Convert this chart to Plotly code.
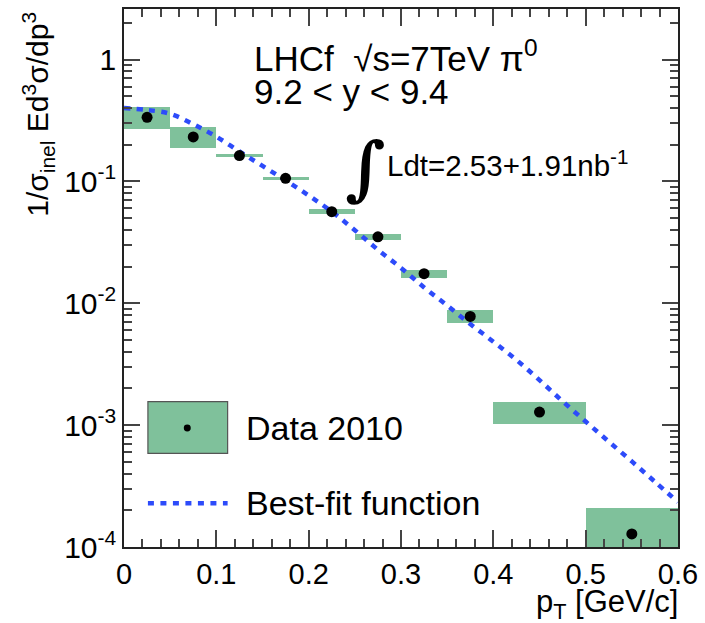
import numpy as np
import plotly.graph_objects as go

# ---------------- data ----------------
bin_lo = [0.00, 0.05, 0.10, 0.15, 0.20, 0.25, 0.30, 0.35, 0.40, 0.50]
bin_hi = [0.05, 0.10, 0.15, 0.20, 0.25, 0.30, 0.35, 0.40, 0.50, 0.60]
data_val = [0.336, 0.232, 0.163, 0.106, 0.0565, 0.0351, 0.0175, 0.0078, 0.00128, 0.000128]
syst_up = [0.405, 0.279, 0.1694, 0.109, 0.0590, 0.0369, 0.0188, 0.00887, 0.00155, 0.000208]
syst_dn = [0.271, 0.188, 0.1589, 0.103, 0.0543, 0.0331, 0.0161, 0.00695, 0.00102, 0.00005]

fit_pt = [0.000, 0.025, 0.050, 0.075, 0.100, 0.125, 0.150, 0.175, 0.200, 0.225,
          0.250, 0.275, 0.300, 0.325, 0.350, 0.375, 0.400, 0.425, 0.450, 0.475,
          0.500, 0.525, 0.550, 0.575, 0.600]
fit_val = [0.400, 0.386, 0.359, 0.295, 0.233, 0.176, 0.134, 0.102, 0.0767, 0.0565,
           0.0398, 0.0275, 0.0195, 0.0135, 0.00959, 0.00676, 0.00484, 0.00343, 0.00234, 0.00157,
           0.00107, 0.000733, 0.000504, 0.000343, 0.000234]

y_tickvals = [1e-4, 1e-3, 1e-2, 1e-1, 1]
y_ticktext = ["10<sup>-4</sup>", "10<sup>-3</sup>", "10<sup>-2</sup>", "10<sup>-1</sup>", "1"]
x_tickvals = [0, 0.1, 0.2, 0.3, 0.4, 0.5, 0.6]
x_ticktext = ["0", "0.1", "0.2", "0.3", "0.4", "0.5", "0.6"]

# ---------------- styling ----------------
W, H = 705, 623
L, R, T, B = 124, 680, 7, 547
GREEN = "rgb(127,193,155)"
BLUE = "rgb(45,75,250)"
FONT = "Liberation Sans"


def px(x):
    return (x - L) / (R - L)


def py(y):
    return (B - y) / (B - T)


lo = np.array(bin_lo)
hi = np.array(bin_hi)
centers = (lo + hi) / 2
widths = hi - lo
up = np.array(syst_up)
dn = np.array(syst_dn)

fig = go.Figure()
fig.add_trace(go.Bar(x=centers, y=up - dn, base=dn, width=widths,
                     marker=dict(color=GREEN, line=dict(width=0)),
                     showlegend=False, hoverinfo="skip"))
fig.add_trace(go.Scatter(x=fit_pt, y=fit_val, mode="lines",
                         line=dict(color=BLUE, width=4.5, dash="6px,6.5px", shape="spline"),
                         showlegend=False))
fig.add_trace(go.Scatter(x=centers, y=data_val, mode="markers",
                         marker=dict(color="black", size=11),
                         showlegend=False))

minor_y = [m * 10.0 ** e for e in range(-4, 1) for m in range(2, 10)]

fig.update_xaxes(range=[0, 0.6], tickvals=x_tickvals, ticktext=x_ticktext,
                 ticks="inside", ticklen=17, tickwidth=1.5, tickcolor="#444",
                 showline=True, linecolor="#222", linewidth=1.5, mirror="ticks",
                 showgrid=False, zeroline=False,
                 tickfont=dict(family=FONT, size=29, color="black"),
                 minor=dict(dtick=0.02, tick0=0, ticks="inside", ticklen=8,
                            tickwidth=1.5, tickcolor="#444", showgrid=False))
fig.update_yaxes(type="log", range=[-4, 0.415], tickvals=y_tickvals, ticktext=y_ticktext,
                 ticks="inside", ticklen=16, tickwidth=1.5, tickcolor="#444",
                 showline=True, linecolor="#222", linewidth=1.5, mirror="ticks",
                 showgrid=False, zeroline=False,
                 tickfont=dict(family=FONT, size=30, color="black"),
                 minor=dict(tickvals=minor_y, ticks="inside", ticklen=8,
                            tickwidth=1.5, tickcolor="#444", showgrid=False))

ann = []
# axis titles
ann.append(dict(x=px(38), y=py(8), xref="paper", yref="paper", xanchor="center", yanchor="top",
                text="1/σ<sub>inel</sub> Ed<sup>3</sup>σ/dp<sup>3</sup>", textangle=-90,
                showarrow=False, font=dict(family=FONT, size=30, color="black")))
ann.append(dict(x=px(682), y=py(604), xref="paper", yref="paper", xanchor="right", yanchor="middle",
                text="p<sub>T</sub> [GeV/c]", showarrow=False,
                font=dict(family=FONT, size=31, color="black")))
# labels
ann.append(dict(x=px(252), y=py(54), xref="paper", yref="paper", xanchor="left", yanchor="middle",
                text="LHCf  √s=7TeV π<sup>0</sup>", showarrow=False,
                font=dict(family=FONT, size=35, color="black")))
ann.append(dict(x=px(252), y=py(90), xref="paper", yref="paper", xanchor="left", yanchor="middle",
                text="9.2 < y < 9.4", showarrow=False,
                font=dict(family=FONT, size=35, color="black")))
ann.append(dict(x=px(366), y=py(166), xref="paper", yref="paper", xanchor="center", yanchor="middle",
                text="<b>∫</b>", showarrow=False,
                font=dict(family="DejaVu Serif", size=70, color="black")))
ann.append(dict(x=px(386), y=py(162), xref="paper", yref="paper", xanchor="left", yanchor="middle",
                text="Ldt=2.53+1.91nb<sup>-1</sup>", showarrow=False,
                font=dict(family=FONT, size=29.5, color="black")))
# legend text
ann.append(dict(x=px(244), y=py(428), xref="paper", yref="paper", xanchor="left", yanchor="middle",
                text="Data 2010", showarrow=False,
                font=dict(family=FONT, size=34, color="black")))
ann.append(dict(x=px(244), y=py(503), xref="paper", yref="paper", xanchor="left", yanchor="middle",
                text="Best-fit function", showarrow=False,
                font=dict(family=FONT, size=34, color="black")))

shapes = [
    dict(type="rect", xref="paper", yref="paper", x0=px(148), x1=px(228), y0=py(453), y1=py(401),
         fillcolor=GREEN, line=dict(color="#555", width=1.2)),
    dict(type="circle", xref="paper", yref="paper", x0=px(184), x1=px(191), y0=py(431), y1=py(424),
         fillcolor="black", line=dict(color="black", width=0)),
    dict(type="line", xref="paper", yref="paper", x0=px(148), x1=px(228), y0=py(503), y1=py(503),
         line=dict(color=BLUE, width=4.5, dash="6px,6.5px")),
]

fig.update_layout(width=W, height=H, margin=dict(l=L, r=W - R, t=T, b=H - B),
                  paper_bgcolor="white", plot_bgcolor="white",
                  annotations=ann, shapes=shapes, showlegend=False, bargap=0)

fig.write_html("out.html")
